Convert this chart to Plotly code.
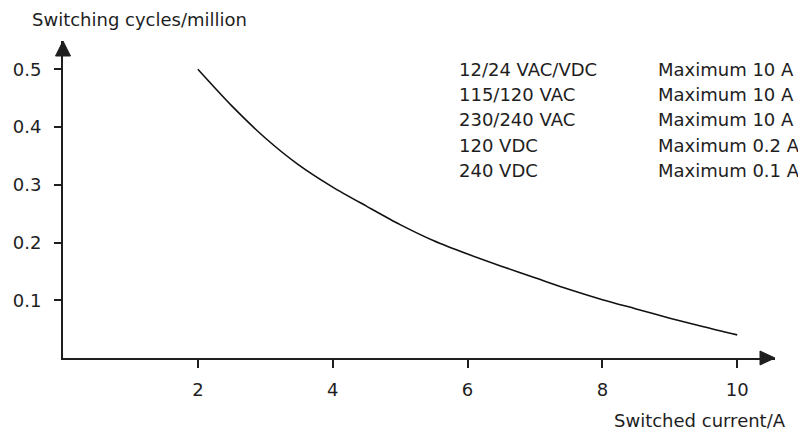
import plotly.graph_objects as go

# Curve
current = [2.0, 2.5, 3.0, 3.5, 4.0, 4.5, 5.0, 5.5, 6.0, 6.5, 7.0, 7.5, 8.0, 8.5, 9.0, 9.5, 10.0]
cycles = [0.500, 0.437, 0.381, 0.334, 0.296, 0.263, 0.231, 0.203, 0.180, 0.159, 0.139, 0.119,
          0.101, 0.085, 0.069, 0.054, 0.040]

x_ticks = [2, 4, 6, 8, 10]
y_ticks = [0.1, 0.2, 0.3, 0.4, 0.5]

voltages = ["12/24 VAC/VDC", "115/120 VAC", "230/240 VAC", "120 VDC", "240 VDC"]
limits = ["Maximum 10 A", "Maximum 10 A", "Maximum 10 A", "Maximum 0.2 A", "Maximum 0.1 A"]

X_MAX = 10.56
Y_MAX = 0.549
FONT = "DejaVu Sans, Liberation Sans, Arial, sans-serif"
AXIS = "#1e1e1e"
TXT = "#1e1e1e"

# page has an 8px body margin, so the figure is laid out in its own pixels
W, H = 798, 424
L, R, T, B = 55, 31, 33, 74
pw, ph = W - L - R, H - T - B


def px(x):
    return (x - L) / pw


def py(y):
    return (H - B - y) / ph


fig = go.Figure()

fig.add_trace(go.Scatter(
    x=current, y=cycles, mode="lines",
    line=dict(color="#111111", width=1.6, shape="spline", smoothing=0.8),
    showlegend=False, hoverinfo="skip",
))

# arrow heads at the axis ends
fig.add_shape(type="path", xref="paper", yref="paper",
              path=f"M {px(L - 7.5)} {py(T + 15)} L {px(L)} {py(T)} L {px(L + 7.5)} {py(T + 15)} Z",
              fillcolor=AXIS, line=dict(color=AXIS, width=1))
fig.add_shape(type="path", xref="paper", yref="paper",
              path=f"M {px(W - R - 15)} {py(H - B - 7)} L {px(W - R)} {py(H - B)} L {px(W - R - 15)} {py(H - B + 7)} Z",
              fillcolor=AXIS, line=dict(color=AXIS, width=1))

# axis titles
fig.add_annotation(x=px(22), y=py(12), xref="paper", yref="paper",
                   text="Switching cycles/million", showarrow=False,
                   xanchor="left", yanchor="middle", font=dict(size=18, color=TXT))
fig.add_annotation(x=px(779), y=py(H), xref="paper", yref="paper",
                   text="Switched current/A", showarrow=False, borderpad=0,
                   xanchor="right", yanchor="bottom", font=dict(size=18, color=TXT))

# rating table
for i, (v, lim) in enumerate(zip(voltages, limits)):
    yy = 61 + i * 25.4
    fig.add_annotation(x=px(449), y=py(yy), xref="paper", yref="paper", text=v,
                       showarrow=False, xanchor="left", yanchor="middle",
                       font=dict(size=18, color=TXT))
    fig.add_annotation(x=px(648), y=py(yy), xref="paper", yref="paper", text=lim,
                       showarrow=False, xanchor="left", yanchor="middle",
                       font=dict(size=18, color=TXT))

fig.update_layout(
    width=W, height=H,
    margin=dict(l=L, r=R, t=T, b=B, autoexpand=False),
    paper_bgcolor="white", plot_bgcolor="white",
    font=dict(family=FONT, size=18, color=TXT),
    xaxis=dict(range=[0, X_MAX], tickvals=x_ticks, ticktext=[str(t) for t in x_ticks],
               showgrid=False, zeroline=False, showline=True, linecolor=AXIS, linewidth=2,
               ticks="outside", ticklen=8, tickwidth=1.5, tickcolor=AXIS,
               ticklabelstandoff=6, automargin=False),
    yaxis=dict(range=[0, Y_MAX], tickvals=y_ticks, ticktext=[f"{t:.1f}" for t in y_ticks],
               showgrid=False, zeroline=False, showline=True, linecolor=AXIS, linewidth=2,
               ticks="outside", ticklen=7, tickwidth=1.5, tickcolor=AXIS,
               ticklabelstandoff=9, automargin=False),
    showlegend=False,
)

fig.write_html("out.html")
